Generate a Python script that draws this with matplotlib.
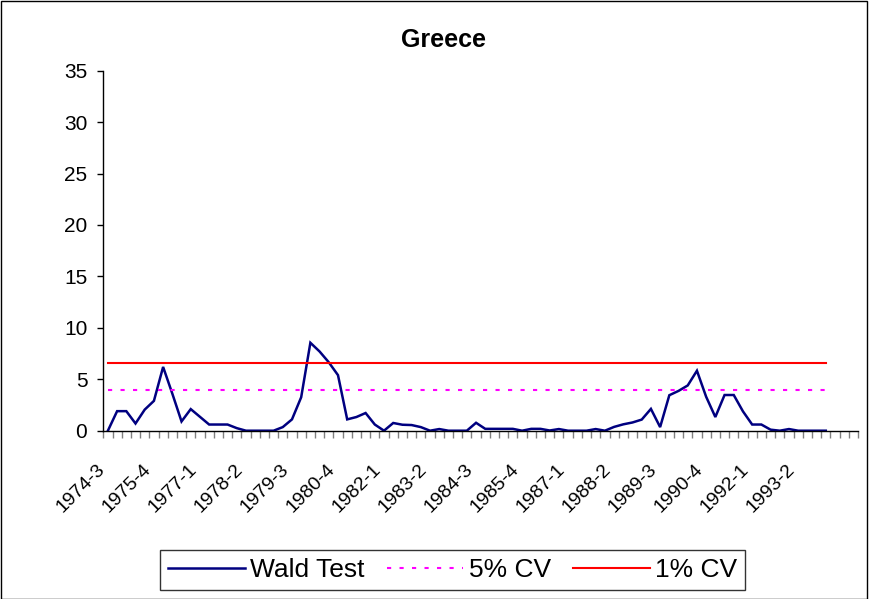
import matplotlib
matplotlib.use('Agg')
import matplotlib.pyplot as plt
from matplotlib.patches import Rectangle
import numpy as np

plt.rcParams['font.family'] = ['Liberation Sans', 'DejaVu Sans']

# quarterly Wald statistics, 1974-3 .. 1994-1
wald = [0.0, 1.9, 1.9, 0.7, 2.05, 2.9, 6.2, 3.6, 0.9, 2.1,
        1.35, 0.6, 0.6, 0.6, 0.25, 0.0, 0.0, 0.0, 0.0, 0.35,
        1.1, 3.25, 8.55, 7.7, 6.65, 5.4, 1.1, 1.33, 1.72, 0.6,
        0.0, 0.75, 0.58, 0.55, 0.35, 0.0, 0.16, 0.0, 0.0, 0.0,
        0.77, 0.18, 0.18, 0.18, 0.18, 0.0, 0.18, 0.18, 0.02, 0.16,
        0.0, 0.0, 0.0, 0.16, 0.0, 0.37, 0.62, 0.8, 1.08, 2.12,
        0.35, 3.45, 3.87, 4.4, 5.83, 3.3, 1.33, 3.47, 3.47, 1.88,
        0.6, 0.6, 0.1, 0.0, 0.16, 0.0, 0.0, 0.0, 0.0]
cv5 = 3.98
cv1 = 6.6

start_year, start_q = 1974, 3
n_categories = 82  # last few category cells on the axis are blank
label_every = 5

# category names (quarters)
quarters = []
y, q = start_year, start_q
for i in range(len(wald)):
    quarters.append(f"{y}-{q}")
    q += 1
    if q > 4:
        q = 1
        y += 1

W, H = 869, 599
fig = plt.figure(figsize=(W / 100, H / 100), dpi=100)
ax = fig.add_axes([103.3 / W, 1 - 430.7 / H, (858 - 103.3) / W, (430.7 - 70.7) / H])

x = np.arange(len(wald)) + 0.5
ax.plot(x, wald, color='#000080', lw=1.8, label='Wald Test', solid_joinstyle='miter')
ax.plot(x, np.full(len(wald), cv5), color='#FF00FF', lw=1.5, dashes=(2, 4), label='5% CV')
ax.plot(x, np.full(len(wald), cv1), color='#FF0000', lw=1.5, label='1% CV')

ax.set_xlim(0, n_categories)
ax.set_ylim(0, 35)
ax.set_yticks(np.arange(0, 36, 5))

# tick marks between categories, labels on every 5th category
ax.set_xticks(np.arange(0, n_categories + 1), minor=True)
ax.set_xticks(x[::label_every])
ax.set_xticklabels(quarters[::label_every], rotation=45, ha='right', va='top')
ax.tick_params(axis='x', which='major', length=0, pad=22, labelsize=14)
ax.tick_params(axis='x', which='minor', length=5, width=1, color='#808080', direction='out')
ax.tick_params(axis='y', length=4.5, width=1, direction='out', labelsize=15, pad=7)

for s in ['top', 'right']:
    ax.spines[s].set_visible(False)
for s in ['left', 'bottom']:
    ax.spines[s].set_linewidth(1)

fig.text(443.5 / W, 1 - 40 / H, 'Greece', ha='center', va='center',
         fontsize=18, fontweight='bold')

leg = fig.legend(loc='center', bbox_to_anchor=(452.5 / W, 1 - 570 / H), ncol=3,
                 fontsize=19, frameon=True, fancybox=False, edgecolor='black',
                 handlelength=2.9, handletextpad=0.2, columnspacing=0.85,
                 borderpad=0.3)
leg.get_frame().set_linewidth(1)

# chart area border
fig.patches.append(Rectangle((0.5 / W, 0.5 / H), 1 - 3 / W, 1 - 1 / H,
                             transform=fig.transFigure, fill=False,
                             edgecolor='black', lw=1))

fig.savefig('out.png', dpi=100)
